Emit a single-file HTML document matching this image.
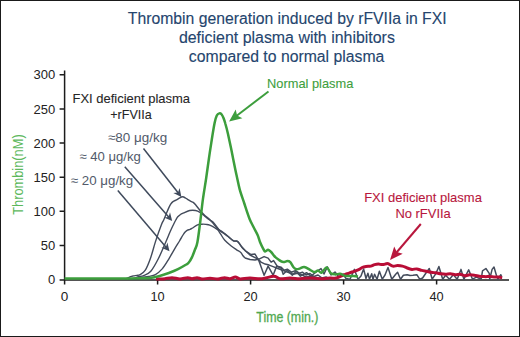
<!DOCTYPE html>
<html><head><meta charset="utf-8"><style>
html,body{margin:0;padding:0;background:#fff;}
svg{display:block;font-family:"Liberation Sans",sans-serif;}
</style></head><body>
<svg width="520" height="337" viewBox="0 0 520 337">
<rect x="0.5" y="0.5" width="519" height="336" fill="#fff" stroke="#1a1a1a" stroke-width="1"/>
<text x="287.2" y="23.7" font-size="15.6" fill="#25456e" stroke="#25456e" stroke-width="0.12" text-anchor="middle" textLength="318.8" lengthAdjust="spacingAndGlyphs" >Thrombin generation induced by rFVIIa in FXI</text>
<text x="286.9" y="42.5" font-size="15.6" fill="#25456e" stroke="#25456e" stroke-width="0.12" text-anchor="middle" textLength="216" lengthAdjust="spacingAndGlyphs" >deficient plasma with inhibitors</text>
<text x="286.6" y="61.7" font-size="15.6" fill="#25456e" stroke="#25456e" stroke-width="0.12" text-anchor="middle" textLength="195.5" lengthAdjust="spacingAndGlyphs" >compared to normal plasma</text>
<path d="M64.6,70.5 V284.6 M59.6,279.9 H509 M59.6,74.8 H64.6 M59.6,108.9 H64.6 M59.6,143.1 H64.6 M59.6,177.2 H64.6 M59.6,211.3 H64.6 M59.6,245.5 H64.6" stroke="#1c1c1c" stroke-width="1.5" fill="none"/>
<path d=" M157.6,279.9 V284.6 M250.6,279.9 V284.6 M343.6,279.9 V284.6 M436.6,279.9 V284.6" stroke="#1c1c1c" stroke-width="1.5" fill="none"/>
<text x="55.2" y="79.4" font-size="13" fill="#222" stroke="#222" stroke-width="0" text-anchor="end" >300</text>
<text x="55.2" y="113.5" font-size="13" fill="#222" stroke="#222" stroke-width="0" text-anchor="end" >250</text>
<text x="55.2" y="147.7" font-size="13" fill="#222" stroke="#222" stroke-width="0" text-anchor="end" >200</text>
<text x="55.2" y="181.8" font-size="13" fill="#222" stroke="#222" stroke-width="0" text-anchor="end" >150</text>
<text x="55.2" y="215.9" font-size="13" fill="#222" stroke="#222" stroke-width="0" text-anchor="end" >100</text>
<text x="55.2" y="250.1" font-size="13" fill="#222" stroke="#222" stroke-width="0" text-anchor="end" >50</text>
<text x="55.2" y="284.2" font-size="13" fill="#222" stroke="#222" stroke-width="0" text-anchor="end" >0</text>
<text x="64.6" y="300.7" font-size="13.5" fill="#222" stroke="#222" stroke-width="0" text-anchor="middle" >0</text>
<text x="157.6" y="300.7" font-size="13.5" fill="#222" stroke="#222" stroke-width="0" text-anchor="middle" textLength="14.2" lengthAdjust="spacingAndGlyphs" >10</text>
<text x="250.6" y="300.7" font-size="13.5" fill="#222" stroke="#222" stroke-width="0" text-anchor="middle" textLength="14.2" lengthAdjust="spacingAndGlyphs" >20</text>
<text x="343.6" y="300.7" font-size="13.5" fill="#222" stroke="#222" stroke-width="0" text-anchor="middle" textLength="14.2" lengthAdjust="spacingAndGlyphs" >30</text>
<text x="436.6" y="300.7" font-size="13.5" fill="#222" stroke="#222" stroke-width="0" text-anchor="middle" textLength="14.2" lengthAdjust="spacingAndGlyphs" >40</text>
<text transform="translate(22.7,214.8) rotate(-90)" font-size="15" fill="#5cb85c" textLength="80.5" lengthAdjust="spacingAndGlyphs">Thrombin(nM)</text>
<text x="256.3" y="322" font-size="14.5" fill="#4fa84f" stroke="#4fa84f" stroke-width="0.3" text-anchor="start" textLength="62" lengthAdjust="spacingAndGlyphs" >Time (min.)</text>
<path d="M125.0,279.4 C125.8,279.0 128.6,277.4 130.0,276.8 C131.4,276.2 132.2,276.1 133.4,275.9 C134.6,275.7 135.9,275.6 137.0,275.4 C138.1,275.2 138.8,275.5 140.2,274.6 C141.6,273.7 143.6,272.8 145.3,270.2 C147.0,267.6 148.6,263.5 150.3,258.8 C152.0,254.1 153.6,247.5 155.4,241.9 C157.2,236.3 159.9,228.6 161.3,225.0 C162.7,221.4 162.8,221.9 163.6,220.2 C164.4,218.5 165.1,216.6 165.9,214.7 C166.7,212.8 167.5,210.7 168.3,208.9 C169.1,207.2 169.9,205.4 170.7,204.2 C171.5,203.0 172.0,202.3 173.0,201.6 C174.0,200.9 175.5,200.4 176.6,199.8 C177.7,199.2 178.8,198.5 179.6,198.0 C180.4,197.5 180.7,197.2 181.4,197.0 C182.1,196.8 182.7,196.6 183.7,197.0 C184.7,197.4 186.1,198.5 187.3,199.2 C188.5,199.9 189.9,200.9 190.9,201.4 C191.9,201.9 192.4,201.8 193.2,202.4 C194.0,203.0 194.5,203.5 195.6,204.8 C196.7,206.1 198.4,208.5 199.9,210.3 C201.4,212.1 203.2,213.9 204.8,215.4 C206.4,216.9 208.2,218.0 209.7,219.5 C211.2,221.0 212.6,222.9 214.0,224.5 C215.4,226.1 216.9,228.0 218.4,229.3 C219.9,230.6 221.4,231.1 223.0,232.3 C224.6,233.5 226.3,234.9 228.0,236.3 C229.7,237.7 232.0,239.9 233.4,240.7 C234.8,241.5 235.7,240.9 236.5,241.2 C237.3,241.5 237.6,241.6 238.5,242.6 C239.4,243.6 240.8,246.0 241.9,247.3 C243.0,248.6 244.5,250.0 245.0,250.5" stroke="#434b5b" stroke-width="1.4" fill="none"/>
<path d="M128.0,279.4 C128.8,279.3 131.2,279.1 133.0,278.6 C134.8,278.2 136.7,277.2 138.5,276.7 C140.3,276.2 141.5,276.5 143.6,275.6 C145.7,274.7 148.4,274.1 150.8,271.3 C153.2,268.5 155.8,263.7 158.3,258.8 C160.8,253.9 163.9,246.4 165.8,241.9 C167.8,237.4 168.8,234.7 170.0,232.0 C171.2,229.3 172.0,227.5 173.0,225.5 C174.0,223.5 175.0,221.4 175.8,220.0 C176.6,218.6 177.0,217.7 177.8,216.8 C178.6,215.9 179.5,215.2 180.5,214.5 C181.5,213.8 182.2,213.6 183.7,212.9 C185.2,212.2 187.7,210.9 189.7,210.5 C191.7,210.1 193.9,210.2 195.6,210.5 C197.3,210.8 198.5,211.4 200.0,212.3 C201.5,213.2 203.3,215.0 204.8,216.2 C206.3,217.4 207.5,218.5 208.9,219.5 C210.3,220.5 211.8,220.9 213.0,222.0 C214.2,223.1 215.2,224.7 216.2,226.0 C217.2,227.3 217.9,228.6 219.0,229.8 C220.1,231.0 221.5,231.9 223.0,233.0 C224.5,234.1 226.3,235.2 228.0,236.5 C229.7,237.8 232.0,240.1 233.4,240.8 C234.8,241.6 235.7,240.8 236.5,241.0 C237.3,241.2 237.6,241.2 238.5,242.2 C239.4,243.2 240.8,245.6 241.9,247.0 C243.0,248.4 244.5,249.9 245.0,250.5" stroke="#434b5b" stroke-width="1.4" fill="none"/>
<path d="M133.0,279.4 C133.7,279.3 135.5,279.2 137.0,278.9 C138.5,278.6 140.0,277.9 141.9,277.5 C143.8,277.1 146.3,277.0 148.6,276.5 C150.8,276.0 153.1,275.9 155.4,274.6 C157.7,273.3 159.9,271.5 162.2,268.9 C164.4,266.3 166.8,262.2 168.9,258.8 C171.0,255.4 173.0,251.6 174.8,248.6 C176.6,245.6 178.1,243.3 179.5,241.0 C180.9,238.7 182.0,236.6 183.0,235.0 C184.0,233.4 184.8,232.4 185.6,231.6 C186.3,230.8 186.8,230.5 187.5,230.1 C188.2,229.7 189.2,229.8 190.0,229.4 C190.8,229.1 191.2,228.8 192.5,228.0 C193.8,227.2 195.9,225.4 197.5,224.8 C199.1,224.2 200.6,224.3 202.0,224.2 C203.4,224.1 204.7,224.2 206.0,224.4 C207.3,224.6 208.3,224.6 209.7,225.2 C211.1,225.8 213.2,226.9 214.6,227.7 C216.0,228.5 216.9,229.1 217.9,230.1 C218.9,231.1 219.3,232.2 220.5,233.9 C221.7,235.6 223.0,238.3 224.8,240.3 C226.6,242.3 229.2,244.4 231.2,246.0 C233.2,247.6 235.0,248.7 236.6,249.8 C238.2,250.9 239.7,251.5 240.8,252.5 C241.9,253.5 242.3,254.9 243.0,255.8 C243.7,256.7 244.7,257.6 245.0,258.0" stroke="#434b5b" stroke-width="1.4" fill="none"/>
<polyline points="245.0,250.5 251.0,254.5 255.0,254.0 259.0,261.1 264.1,275.2 268.1,266.1 273.1,275.2 276.7,266.1 281.2,268.2 283.2,274.2 287.3,270.2 292.3,275.2 296.3,271.2 300.4,276.2 306.5,272.7 311.1,276.1 316.0,272.0 321.0,268.6 324.0,274.0 327.3,266.9 331.0,275.0 335.0,272.0 339.0,277.0 343.0,274.0 346.0,278.5 350.0,279.2 354.4,269.4 358.0,279.2 361.0,276.0 363.6,269.0 366.0,278.5 367.9,273.3 369.5,279.2 371.7,273.8 373.0,279.2 374.6,274.2 377.0,279.2 379.4,271.3 382.3,279.2 385.0,275.0 388.0,267.5 391.8,279.2 395.7,274.2 397.6,272.3 400.5,279.2 403.4,275.2 407.2,274.7 410.0,275.5 413.0,275.2 416.8,274.7 419.7,279.2 422.6,278.0 426.0,273.0 429.3,268.5 432.2,279.2 436.0,273.3 438.9,266.5 442.7,279.2 445.6,275.2 449.5,279.2 453.3,274.7 457.2,279.2 461.0,269.4 463.9,279.2 468.7,269.9 472.5,279.2 476.4,277.1 481.2,279.2 482.5,270.9 485.9,268.5 489.2,273.3 489.7,279.2 492.1,269.4 494.0,267.0 496.4,275.2 497.9,279.2 500.8,274.7 501.7,276.6" stroke="#434b5b" stroke-width="1.5" fill="none" stroke-linejoin="round"/>
<polyline points="245.0,250.5 250.0,255.0 255.0,257.6 258.0,259.1 261.0,262.1 265.1,264.1 269.1,265.1 273.1,266.6 277.2,268.2 281.2,269.7 285.2,271.2 289.3,272.7 293.3,274.2 297.3,273.2 301.4,274.7 306.0,277.0 311.0,276.0 316.0,278.5 322.0,278.0 328.0,279.2" stroke="#434b5b" stroke-width="1.5" fill="none" stroke-linejoin="round"/>
<polyline points="245.0,258.0 250.0,259.5 255.0,260.1 259.0,259.1 264.1,256.6 268.1,258.1 271.1,262.1 273.6,260.6 277.2,266.1 281.2,267.2 284.2,270.2 287.3,269.2 291.3,272.2 295.3,270.7 299.4,273.2 302.4,272.2 306.0,275.0 310.0,273.5 314.0,276.5 318.0,275.0 322.0,278.0 326.0,277.0 330.0,279.0" stroke="#434b5b" stroke-width="1.5" fill="none" stroke-linejoin="round"/>
<path d="M156.0,278.9 C156.7,278.9 158.5,278.9 160.0,278.9 C161.5,278.9 163.0,278.9 165.0,278.7 C167.0,278.5 169.5,277.8 172.0,277.8 C174.5,277.8 177.4,278.9 180.0,278.9 C182.6,278.9 185.7,277.7 187.7,277.7 C189.7,277.7 190.4,278.7 192.0,278.7 C193.6,278.7 195.3,277.7 197.0,277.7 C198.7,277.7 199.8,278.8 202.0,278.9 C204.2,279.0 207.3,278.3 210.0,278.3 C212.7,278.3 215.6,279.0 218.0,278.9 C220.4,278.8 222.6,277.8 224.6,277.8 C226.6,277.8 228.2,278.9 230.0,278.7 C231.8,278.5 233.7,276.9 235.4,276.9 C237.1,276.9 237.6,278.7 240.0,278.9 C242.4,279.1 246.3,278.1 250.0,278.1 C253.7,278.1 258.0,279.0 262.0,278.7 C266.0,278.4 270.8,276.3 273.8,276.3 C276.8,276.3 277.3,278.4 280.0,278.7 C282.7,279.0 286.7,278.1 290.0,278.1 C293.3,278.1 296.7,278.7 300.0,278.7 C303.3,278.7 306.7,277.9 310.0,277.9 C313.3,277.9 316.7,278.8 320.0,278.8 C323.3,278.8 327.3,278.2 330.0,278.1 C332.7,278.0 334.3,278.4 336.0,278.1 C337.7,277.9 338.5,277.2 340.0,276.6 C341.5,276.0 343.2,275.3 344.8,274.7 C346.4,274.1 348.0,273.4 349.6,272.8 C351.2,272.2 352.8,271.9 354.4,271.3 C356.0,270.7 357.9,270.0 359.2,269.4 C360.5,268.8 361.0,268.0 362.1,267.5 C363.2,267.0 364.6,266.7 366.0,266.5 C367.4,266.3 369.4,266.4 370.8,266.1 C372.2,265.8 373.3,264.9 374.6,264.6 C375.9,264.3 377.2,264.1 378.5,264.1 C379.8,264.1 381.0,264.7 382.3,264.6 C383.6,264.6 385.2,264.0 386.2,263.8 C387.1,263.6 386.9,263.3 388.0,263.7 C389.1,264.1 391.2,265.8 392.8,266.1 C394.4,266.4 396.0,265.6 397.6,265.6 C399.2,265.6 400.8,265.7 402.4,266.1 C404.0,266.5 405.6,267.4 407.2,268.0 C408.8,268.6 410.4,269.2 412.0,269.4 C413.6,269.5 415.2,268.7 416.8,268.9 C418.4,269.1 420.1,270.0 421.7,270.4 C423.3,270.8 424.9,271.0 426.5,271.3 C428.1,271.6 429.7,272.1 431.3,272.3 C432.9,272.6 434.4,272.6 436.0,272.8 C437.6,273.1 439.2,273.6 440.8,273.8 C442.4,274.0 444.0,274.2 445.6,274.2 C447.2,274.2 448.8,273.7 450.4,273.8 C452.0,273.9 453.6,274.6 455.2,274.7 C456.8,274.8 458.4,274.0 460.0,274.2 C461.6,274.4 463.2,275.6 464.8,275.7 C466.4,275.8 468.1,274.8 469.7,274.7 C471.3,274.6 472.9,274.9 474.5,275.2 C476.1,275.4 477.7,276.0 479.3,276.2 C480.9,276.4 482.4,276.5 484.0,276.6 C485.6,276.7 487.5,276.6 489.2,276.6 C490.9,276.7 492.4,276.8 494.0,276.9 C495.6,277.0 497.4,277.0 498.8,277.1 C500.2,277.2 501.6,277.7 502.2,277.8" stroke="#b80d36" stroke-width="3" fill="none" stroke-linejoin="round"/>
<path d="M64.6,278.4 C70.5,278.4 89.1,278.4 100.0,278.4 C110.9,278.4 123.3,278.4 130.0,278.4 C136.7,278.4 136.4,278.4 140.0,278.3 C143.6,278.2 148.2,278.2 151.5,277.8 C154.8,277.4 156.7,276.8 159.6,276.0 C162.5,275.2 165.7,274.1 168.8,273.0 C171.9,271.9 175.2,270.6 178.0,269.2 C180.8,267.8 184.0,265.9 185.8,264.8 C187.6,263.7 187.6,264.0 188.6,262.8 C189.6,261.6 190.9,259.5 191.9,257.4 C192.9,255.3 193.9,252.5 194.8,250.0 C195.7,247.5 196.5,247.2 197.4,242.3 C198.3,237.4 199.5,227.8 200.4,220.5 C201.3,213.2 202.0,205.8 203.0,198.7 C204.0,191.6 205.2,184.8 206.2,178.0 C207.2,171.2 208.1,164.4 209.0,158.0 C209.9,151.6 210.9,145.3 211.8,139.5 C212.7,133.7 213.8,127.0 214.6,123.0 C215.4,119.0 216.0,117.1 216.8,115.5 C217.6,113.9 218.5,113.6 219.3,113.4 C220.1,113.2 220.8,113.5 221.5,114.3 C222.2,115.1 222.9,116.5 223.5,118.0 C224.1,119.5 224.6,120.8 225.3,123.5 C226.1,126.2 227.1,129.9 228.0,134.0 C228.9,138.1 230.1,143.7 231.0,148.0 C231.9,152.3 232.5,155.5 233.4,160.0 C234.3,164.5 235.4,170.1 236.5,175.0 C237.6,179.9 238.4,184.6 239.7,189.4 C241.0,194.2 242.9,199.1 244.5,204.0 C246.1,208.9 248.0,214.9 249.5,218.7 C251.0,222.5 252.2,224.3 253.5,227.0 C254.8,229.7 256.5,232.5 257.6,235.0 C258.7,237.5 259.1,239.8 260.0,242.0 C260.9,244.2 262.1,246.7 263.0,248.3 C263.9,249.9 264.2,251.2 265.1,251.5 C266.0,251.8 267.1,249.7 268.1,249.8 C269.1,249.9 269.9,250.8 271.1,252.0 C272.3,253.2 273.9,255.7 275.2,257.0 C276.5,258.4 277.9,259.2 279.2,260.1 C280.5,261.0 281.8,261.9 283.2,262.1 C284.6,262.3 286.1,261.1 287.3,261.1 C288.5,261.1 289.3,261.1 290.3,262.1 C291.3,263.1 292.3,265.8 293.3,267.0 C294.3,268.2 295.2,268.9 296.3,269.2 C297.4,269.5 298.3,269.0 299.6,268.6 C300.9,268.2 302.5,266.7 304.2,266.9 C305.9,267.1 308.3,268.9 310.0,269.8 C311.7,270.7 313.3,272.0 314.6,272.1 C315.9,272.2 316.9,270.3 318.0,270.4 C319.1,270.5 320.1,273.2 321.5,272.7 C322.9,272.2 325.1,267.4 326.7,267.5 C328.2,267.6 329.4,272.2 330.8,273.3 C332.2,274.4 333.9,274.3 335.4,274.4 C336.9,274.5 338.5,273.6 340.0,273.8 C341.5,274.0 343.1,275.2 344.6,275.6 C346.1,276.0 347.7,276.1 349.2,276.1 C350.7,276.2 352.3,275.8 353.8,275.9 C355.3,276.0 357.3,276.4 358.0,276.5" stroke="#3c9e3c" stroke-width="2.5" fill="none" stroke-linejoin="round"/>
<text x="72.5" y="102.5" font-size="13" fill="#262626" stroke="#262626" stroke-width="0.1" text-anchor="start" textLength="117.5" lengthAdjust="spacingAndGlyphs" >FXI deficient plasma</text>
<text x="110.3" y="118.5" font-size="13" fill="#262626" stroke="#262626" stroke-width="0.1" text-anchor="start" textLength="41.5" lengthAdjust="spacingAndGlyphs" >+rFVIIa</text>
<text x="107.9" y="141.7" font-size="13" fill="#515a6a" stroke="#515a6a" stroke-width="0" text-anchor="start" textLength="59.3" lengthAdjust="spacingAndGlyphs" >≈80 μg/kg</text>
<text x="79.4" y="160.5" font-size="13" fill="#515a6a" stroke="#515a6a" stroke-width="0" text-anchor="start" textLength="61.4" lengthAdjust="spacingAndGlyphs" >≈ 40 μg/kg</text>
<text x="70.8" y="184.8" font-size="13" fill="#515a6a" stroke="#515a6a" stroke-width="0" text-anchor="start" textLength="62.4" lengthAdjust="spacingAndGlyphs" >≈ 20 μg/kg</text>
<line x1="143.5" y1="148.5" x2="178.3" y2="193.0" stroke="#3f4a5c" stroke-width="1.5"/><polygon points="181.4,196.9 173.3,193.1 178.0,192.6 179.6,188.1" fill="#3f4a5c"/>
<line x1="124.8" y1="166.7" x2="168.9" y2="217.2" stroke="#3f4a5c" stroke-width="1.5"/><polygon points="172.2,221.0 163.9,217.6 168.6,216.9 170.0,212.3" fill="#3f4a5c"/>
<line x1="117.8" y1="190.4" x2="166.3" y2="247.5" stroke="#3f4a5c" stroke-width="1.5"/><polygon points="169.5,251.3 161.3,247.8 165.9,247.1 167.4,242.6" fill="#3f4a5c"/>
<text x="267.1" y="88.3" font-size="13" fill="#3d9e3d" stroke="#3d9e3d" stroke-width="0.1" text-anchor="start" textLength="86.2" lengthAdjust="spacingAndGlyphs" >Normal plasma</text>
<line x1="268.5" y1="91.5" x2="236.7" y2="115.7" stroke="#3d9e3d" stroke-width="1.9"/><polygon points="229.1,121.4 235.7,109.4 237.1,115.4 242.4,118.3" fill="#3d9e3d"/>
<text x="364.2" y="201.5" font-size="13" fill="#b8173d" stroke="#b8173d" stroke-width="0.1" text-anchor="start" textLength="117.7" lengthAdjust="spacingAndGlyphs" >FXI deficient plasma</text>
<text x="395.4" y="218" font-size="13" fill="#b8173d" stroke="#b8173d" stroke-width="0.1" text-anchor="start" textLength="55.4" lengthAdjust="spacingAndGlyphs" >No rFVIIa</text>
<line x1="420.8" y1="224" x2="396.5" y2="252.5" stroke="#b8173d" stroke-width="2"/><polygon points="390.0,260.1 394.2,246.6 396.8,252.1 402.7,253.8" fill="#b8173d"/>
</svg>
</body></html>
